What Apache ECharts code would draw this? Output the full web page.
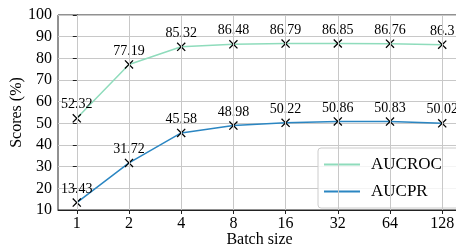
<!DOCTYPE html>
<html>
<head>
<meta charset="utf-8">
<script src="https://cdn.jsdelivr.net/npm/echarts@6/dist/echarts.min.js"></script>
<style>
html,body{margin:0;padding:0;background:#fff;}
#main{width:456px;height:247px;}
</style>
</head>
<body>
<div id="main"></div>
<script>
// batch sizes, plotted evenly (log2 scale)
var batchSizes = ['1', '2', '4', '8', '16', '32', '64', '128'];
var aucroc = [52.32, 77.19, 85.32, 86.48, 86.79, 86.85, 86.76, 86.3];
var aucpr = [13.43, 31.72, 45.58, 48.98, 50.22, 50.86, 50.83, 50.02];

var serif = 'Liberation Serif';
var crossPath = 'path://M0,1L1,0L5,4L9,0L10,1L6,5L10,9L9,10L5,6L1,10L0,9L4,5Z';

function pairs(arr){
	return arr.map(function(v, i){ return [i, v]; });
}

function mkSeries(name, vals, color){
	return {
		name: name,
		type: 'line',
		data: pairs(vals),
		symbol: crossPath,
		symbolSize: 9,
		showAllSymbol: true,
		lineStyle: {color: color, width: 1.5},
		itemStyle: {color: '#000'},
		label: {
			show: true,
			position: 'top',
			distance: 2,
			fontFamily: serif,
			fontSize: 14,
			color: '#000'
		},
		emphasis: {disabled: true},
		z: 3
	};
}

window.onload = () => {
	var myChart = echarts.init(document.getElementById('main'), null, {renderer: 'canvas'});

	var option = {
		animation: false,
		backgroundColor: '#fff',
		textStyle: {fontFamily: serif},
		grid: {
			left: 58, top: 15, right: -5, bottom: 37,
			outerBoundsMode: 'none',
			containLabel: false,
			show: true, borderColor: '#222', borderWidth: 1
		},
		legend: {
			left: 318, top: 148,
			orient: 'vertical',
			backgroundColor: 'rgba(255,255,255,0.8)',
			borderColor: '#ccc', borderWidth: 1, borderRadius: 3,
			padding: [8, 40, 8, 6],
			itemWidth: 36, itemHeight: 2, itemGap: 10,
			icon: 'rect',
			textStyle: {fontFamily: serif, fontSize: 17, color: '#000', padding: [0, 0, 0, 6]},
			data: [
				{name: 'AUCROC', itemStyle: {color: '#8fdcbc'}},
				{name: 'AUCPR', itemStyle: {color: '#2b86c2'}}
			]
		},
		xAxis: {
			type: 'value',
			min: -0.36, max: 7.36,
			name: 'Batch size',
			nameLocation: 'middle',
			nameGap: 22,
			nameMoveOverlap: false,
			nameTextStyle: {fontFamily: serif, fontSize: 16, color: '#000'},
			axisLine: {show: true, lineStyle: {color: '#222'}},
			axisTick: {show: true, length: 4, lineStyle: {color: '#222'}, customValues: [0, 1, 2, 3, 4, 5, 6, 7]},
			axisLabel: {
				fontFamily: serif, fontSize: 16, color: '#000', margin: 6,
				customValues: [0, 1, 2, 3, 4, 5, 6, 7],
				formatter: function(v){ return batchSizes[Math.round(v)]; }
			},
			splitLine: {show: false}
		},
		yAxis: {
			type: 'value',
			min: 10, max: 100, interval: 10,
			name: 'Scores (%)',
			nameLocation: 'middle',
			nameGap: 33,
			nameMoveOverlap: false,
			nameTextStyle: {fontFamily: serif, fontSize: 16, color: '#000'},
			axisLine: {show: true, lineStyle: {color: '#222'}},
			axisTick: {show: true, length: 4, lineStyle: {color: '#222'}},
			axisLabel: {fontFamily: serif, fontSize: 16, color: '#000', margin: 6},
			splitLine: {show: true, lineStyle: {color: '#c8c8c8', width: 1}}
		},
		series: [
			mkSeries('AUCROC', aucroc, '#8fdcbc'),
			mkSeries('AUCPR', aucpr, '#2b86c2'),
			{
				// vertical grid lines at each batch size
				type: 'line',
				data: [],
				markLine: {
					silent: true, symbol: 'none', label: {show: false},
					lineStyle: {color: '#c8c8c8', type: 'solid', width: 1},
					data: batchSizes.map(function(b, i){ return {xAxis: i}; })
				},
				z: 1
			}
		]
	};

	myChart.setOption(option);
};
</script>
</body>
</html>
